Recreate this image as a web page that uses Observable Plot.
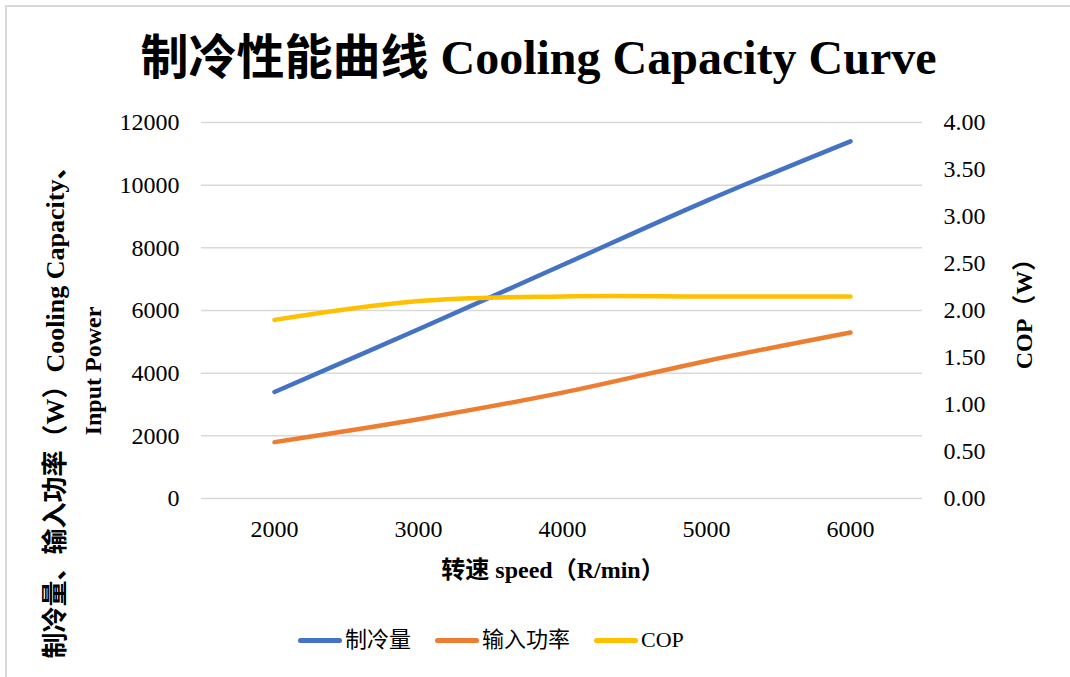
<!DOCTYPE html>
<html>
<head>
<meta charset="utf-8">
<script src="https://cdn.jsdelivr.net/npm/d3@7"></script>
<script src="https://cdn.jsdelivr.net/npm/@observablehq/plot@0.6"></script>
<style>
  html, body { margin: 0; padding: 0; background: #fff; }
  #chart { position: relative; width: 1070px; height: 677px; overflow: hidden; background: #fff;
    font-family: "Liberation Serif", "Noto Sans CJK SC", serif; color: #000; }
  #frame { position: absolute; left: 5px; top: 5px; width: 1200px; height: 800px; border: 2px solid #d9d9d9; box-sizing: border-box; }
  #title { position: absolute; left: 0; top: 30px; width: 1077px; text-align: center; font-size: 48px; font-weight: bold; line-height: 56px; white-space: nowrap; }
  #plot { position: absolute; left: 0; top: 100px; }
  .rot { position: absolute; transform: translate(-50%, -50%) rotate(-90deg); white-space: nowrap; font-weight: bold; font-size: 24px; line-height: 1; }
  #xtitle { position: absolute; transform: translate(-50%, -50%); white-space: nowrap; font-weight: bold; font-size: 24px; line-height: 1; }
  #legend { position: absolute; left: 298px; top: 625px; display: flex; align-items: center; font-size: 22px; line-height: 30px; white-space: nowrap; }
  .item { display: flex; align-items: center; margin-right: 24px; }
  .sw { width: 44px; height: 5px; border-radius: 3px; margin-right: 3px; }
</style>
</head>
<body>
<div id="chart">
  <div id="frame"></div>
  <div id="title">制冷性能曲线 Cooling Capacity Curve</div>
  <div id="plot"></div>
  <div class="rot" style="left:56px; top:406px; font-size:26px;">制冷量、输入功率（W）Cooling Capacity、</div>
  <div class="rot" style="left:93px; top:371px;">Input Power</div>
  <div class="rot" style="left:1024px; top:308px;">COP（W）</div>
  <div id="xtitle" style="left:553px; top:570px;">转速 speed（R/min）</div>
  <div id="legend"></div>
</div>
<script>
// ---- data ----
const speeds = [2000, 3000, 4000, 5000, 6000];
const coolingCapacity = [3400, 5400, 7450, 9500, 11400];
const inputPower = [1800, 2530, 3380, 4390, 5300];
const cop = [1.90, 2.10, 2.15, 2.15, 2.15];
const leftTicks = [0, 2000, 4000, 6000, 8000, 10000, 12000];
const rightTicks = [0, 0.5, 1, 1.5, 2, 2.5, 3, 3.5, 4];
const seriesNames = ["制冷量", "输入功率", "COP"];
const seriesColors = ["#4472C4", "#ED7D31", "#FFC000"];

const leftMax = 12000, rightMax = 4;
const k = leftMax / rightMax;

const rows = [];
speeds.forEach((s, i) => {
  rows.push({speed: s, series: seriesNames[0], y: coolingCapacity[i]});
  rows.push({speed: s, series: seriesNames[1], y: inputPower[i]});
  rows.push({speed: s, series: seriesNames[2], y: cop[i] * k});
});

const font = '"Liberation Serif", "Noto Sans CJK SC", serif';

const chart = Plot.plot({
  width: 1070,
  height: 500,
  marginTop: 22,
  marginBottom: 102,
  marginLeft: 201,
  marginRight: 148,
  style: {fontFamily: font, fontSize: "24px", color: "#000", background: "transparent"},
  x: {type: "point", domain: speeds, padding: 0.5},
  y: {domain: [0, leftMax]},
  color: {domain: seriesNames, range: seriesColors},
  marks: [
    Plot.ruleY(leftTicks, {stroke: "#d9d9d9", strokeWidth: 1.5}),
    Plot.axisY({anchor: "left", ticks: leftTicks, tickSize: 0, tickPadding: 22, label: null, tickFormat: d => String(d), fontSize: 24, fontFamily: font}),
    Plot.axisY({anchor: "right", ticks: rightTicks.map(v => v * k), tickSize: 0, tickPadding: 21, label: null, tickFormat: d => (d / k).toFixed(2), fontSize: 24, fontFamily: font}),
    Plot.axisX({tickSize: 0, tickPadding: 21, label: null, tickFormat: d => String(d), fontSize: 24, fontFamily: font}),
    Plot.line(rows, {x: "speed", y: "y", z: "series", stroke: "series", strokeWidth: 4.5, curve: "catmull-rom", strokeLinecap: "round", strokeLinejoin: "round"})
  ]
});
document.getElementById("plot").appendChild(chart);

const legend = document.getElementById("legend");
seriesNames.forEach((name, i) => {
  const item = document.createElement("div");
  item.className = "item";
  const sw = document.createElement("div");
  sw.className = "sw";
  sw.style.background = seriesColors[i];
  const t = document.createElement("span");
  t.textContent = name;
  item.appendChild(sw);
  item.appendChild(t);
  legend.appendChild(item);
});
</script>
</body>
</html>
